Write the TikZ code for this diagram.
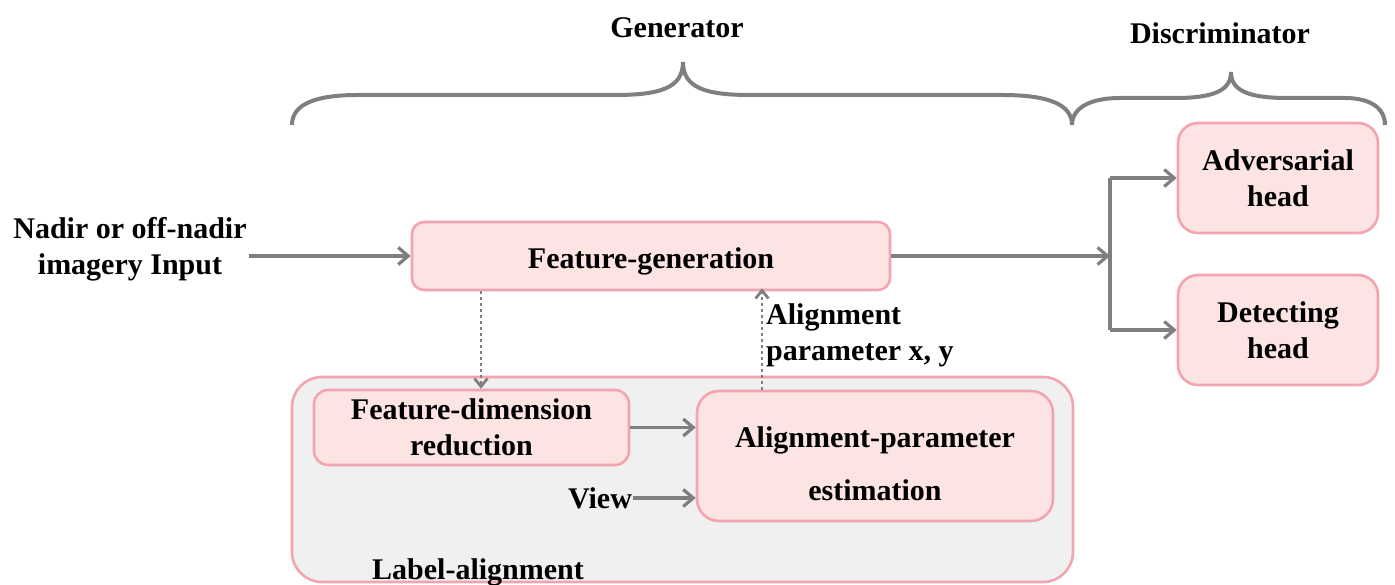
\documentclass[tikz,border=0pt]{standalone}
\usepackage{fontspec}
\setmainfont{Liberation Serif}
\usetikzlibrary{arrows.meta}
\definecolor{boxfill}{HTML}{FBE4E1}
\definecolor{boxline}{HTML}{F2A5AE}
\definecolor{groupfill}{HTML}{F0F0F0}
\definecolor{linegray}{HTML}{7F7F7F}
\tikzset{
  stage/.style={draw=boxline, fill=boxfill, line width=2.6pt, rounded corners=#1,
    align=center, inner sep=0pt},
  bigfont/.style={font=\bfseries\fontsize{30}{36}\selectfont},
  arr/.style={draw=linegray, line width=3.2pt, -{Straight Barb[length=10pt,width=17pt]}},
  dotarr/.style={draw=linegray, line width=2.8pt, dash pattern=on 3pt off 3pt,
    -{Straight Barb[length=8pt,width=13pt]}},
  wire/.style={draw=linegray, line width=3.2pt},
  brace/.style={draw=linegray, line width=4pt},
}
\begin{document}
\begin{tikzpicture}[x=1pt, y=-1pt]
\useasboundingbox (0,0) rectangle (1395,585);

% braces over the two halves of the network
\draw[brace] (292,125) .. controls (292,103) and (318,95) .. (358,95)
  -- (615,95) .. controls (660,95) and (683,88) .. (683,62)
  .. controls (683,88) and (706,95) .. (750,95) -- (1002,95)
  .. controls (1050,95) and (1072,105) .. (1072,125);
\draw[brace] (1072,125) .. controls (1072,108) and (1090,98) .. (1120,98)
  -- (1175,98) .. controls (1215,98) and (1231,90) .. (1231,72)
  .. controls (1231,90) and (1247,98) .. (1287,98) -- (1345,98)
  .. controls (1370,98) and (1385,108) .. (1385,125);
\node[bigfont] (gen) at (677,28) {Generator};
\node[bigfont] (dis) at (1220,33) {Discriminator};

% label-alignment group
\node[stage=30pt, fill=groupfill, minimum width=781pt, minimum height=205pt] (grp) at (682.5,479.5) {};
\node[bigfont] (grplab) at (478,572) {Label-alignment};

% blocks
\node[stage=12pt, bigfont, text height=31pt, text depth=6.5pt,
  minimum width=478pt, minimum height=68pt] (fg) at (651,256) {Feature-generation};
\node[stage=20pt, bigfont, minimum width=200pt, minimum height=110pt] (adv) at (1278,178) {Adversarial\\head};
\node[stage=20pt, bigfont, minimum width=200pt, minimum height=110pt] (det) at (1278,330) {Detecting\\head};
\node[stage=14pt, bigfont, minimum width=315pt, minimum height=75pt] (fdr) at (471.5,427.5) {Feature-dimension\\reduction};
\node[stage=22pt, minimum width=356pt, minimum height=130pt] (ape) at (875,456) {};
\node[bigfont, align=center] (apetext) at (875,464) {Alignment-parameter\\[17pt]estimation};

% free texts
\node[bigfont, align=center, inner sep=2pt] (input) at (130,249) {Nadir or off-nadir\\imagery Input};
\node[bigfont, inner sep=1pt] (view) at (600,498) {View};
\node[bigfont, align=left, anchor=west, inner sep=0pt] (param) at (766,335) {Alignment\\parameter x, y};

% connectors
\coordinate (split) at (1110,256);
\coordinate (down) at (481,0);
\coordinate (up) at (762,0);
\draw[arr] (input.east |- fg.west) -- (fg.west);
\draw[arr] (fg.east) -- (split);
\draw[wire] (split |- adv.west) -- (split |- det.west);
\draw[arr] (split |- adv.west) -- (adv.west);
\draw[arr] (split |- det.west) -- (det.west);
\draw[dotarr] (fg.south -| down) -- (fdr.north -| down);
\draw[dotarr] (ape.north -| up) -- ([yshift=3pt]fg.south -| up);
\draw[arr] (fdr.east) -- (fdr.east -| ape.west);
\draw[arr] (view.east) -- (view.east -| ape.west);
\end{tikzpicture}
\end{document}
